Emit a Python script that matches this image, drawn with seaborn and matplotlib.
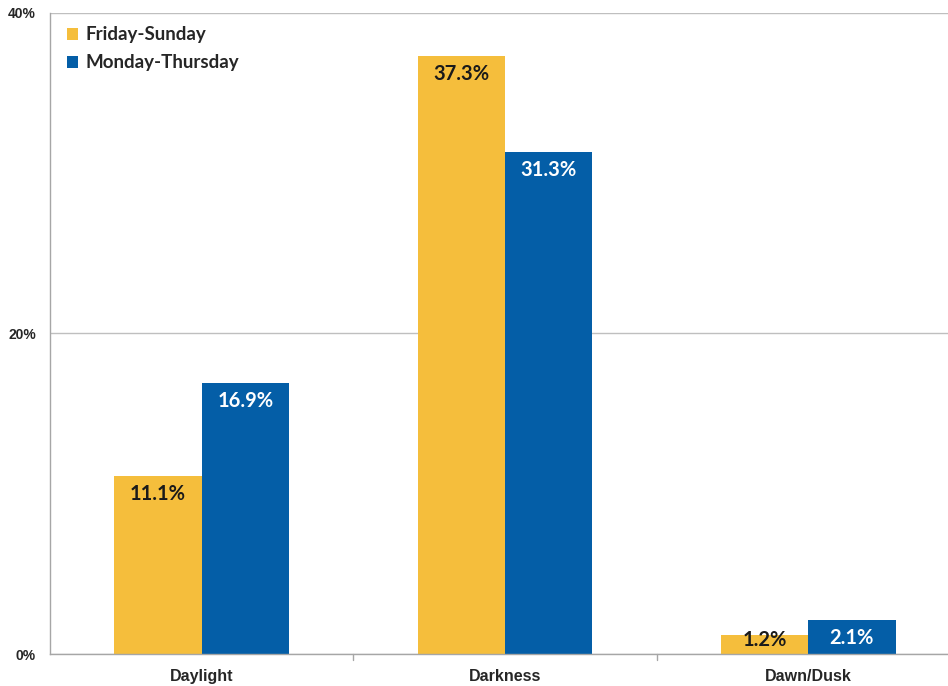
import matplotlib
matplotlib.use("Agg")
import matplotlib.pyplot as plt
import seaborn as sns
import pandas as pd
from matplotlib.font_manager import FontProperties

categories = ["Daylight", "Darkness", "Dawn/Dusk"]
series_names = ["Friday-Sunday", "Monday-Thursday"]
fri_sun = [11.1, 37.3, 1.2]
mon_thu = [16.9, 31.3, 2.1]
y_ticks = [0, 20, 40]
y_tick_labels = ["0%", "20%", "40%"]

colors = ["#F5BE3C", "#045EA7"]
text_colors = ["#1a1a1a", "white"]

sns.set_theme(style="white")
plt.rcParams['font.family'] = ['Liberation Sans', 'DejaVu Sans']

df = pd.DataFrame({
    "category": categories * 2,
    "series": [series_names[0]] * 3 + [series_names[1]] * 3,
    "value": fri_sun + mon_thu,
})

fig = plt.figure(figsize=(9.48, 6.86), dpi=100)
ax = fig.add_axes([50 / 948, 1 - 654 / 686, 910 / 948, (654 - 13) / 686])

sns.barplot(data=df, x="category", y="value", hue="series", order=categories,
            hue_order=series_names, palette=colors, width=0.575, saturation=1,
            edgecolor="none", linewidth=0, ax=ax)

ax.set_xlim(-0.5, 2.5)
ax.set_ylim(0, 40)
ax.set_yticks(y_ticks)
ax.set_yticklabels(y_tick_labels, fontsize=10, fontweight="bold")
ax.yaxis.grid(True, color="#BFBFBF", linewidth=1)
ax.set_axisbelow(True)
ax.set_xlabel("")
ax.set_ylabel("")
ax.tick_params(axis="x", labelsize=11.5, length=0, pad=11)
for lab in ax.get_xticklabels():
    lab.set_fontweight("bold")
ax.tick_params(axis="y", length=0, pad=10)

for s in ["top", "right"]:
    ax.spines[s].set_visible(False)
for s in ["left", "bottom"]:
    ax.spines[s].set_color("#A6A6A6")
    ax.spines[s].set_linewidth(1)

# category boundary tick marks below axis
for b in [0.5, 1.5]:
    ax.plot([b, b], [0, -0.35], color="#A6A6A6", lw=1, clip_on=False)

label_font = ['Lato', 'DejaVu Sans']
for ci, cont in enumerate(ax.containers):
    for bar in cont:
        v = bar.get_height()
        x = bar.get_x() + bar.get_width() / 2
        y = max(v - 1.1, 0.85)
        ax.text(x, y, f"{v:.1f}%", ha="center", va="center", fontsize=14.5,
                fontweight="bold", color=text_colors[ci], family=label_font)

leg = ax.legend(loc="upper left", frameon=False, bbox_to_anchor=(0.008, 0.994),
                handlelength=0.6, handleheight=0.6, handletextpad=0.4,
                labelspacing=0.6, borderaxespad=0.1,
                prop=FontProperties(family=label_font, weight="bold", size=13.5))

fig.savefig("out.png", dpi=100)
